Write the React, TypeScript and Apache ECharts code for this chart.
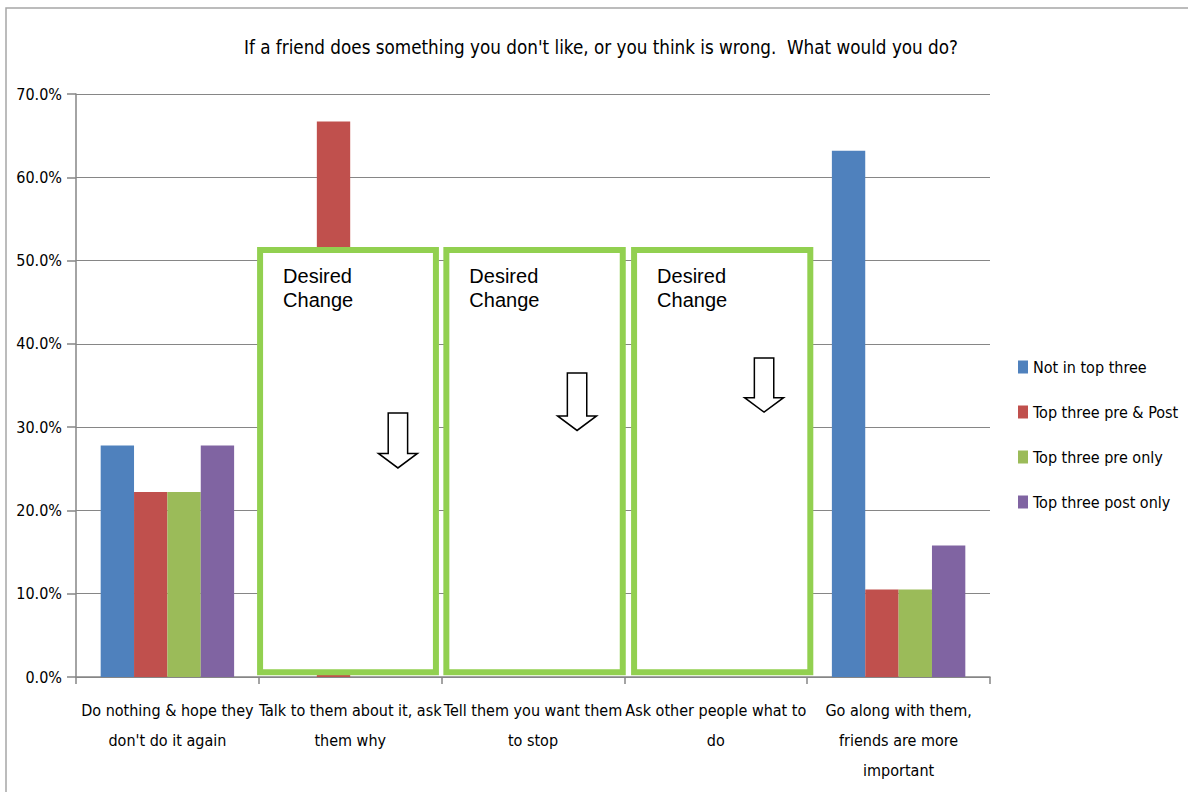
import { useEffect, useRef } from "react";
import * as echarts from "echarts";

// ---- data ----
const categories = [
  "Do nothing & hope they\ndon't do it again",
  "Talk to them about it, ask\nthem why",
  "Tell them you want them\nto stop",
  "Ask other people what to\ndo",
  "Go along with them,\nfriends are more\nimportant",
];
const seriesNames = [
  "Not in top three",
  "Top three pre & Post",
  "Top three pre only",
  "Top three post only",
];
const notInTopThree = [27.8, 0, 0, 0, 63.2];
const topThreePrePost = [22.2, 66.7, 0, 0, 10.5];
const topThreePreOnly = [22.2, 0, 0, 0, 10.5];
const topThreePostOnly = [27.8, 0, 0, 0, 15.8];
const yMin = 0;
const yMax = 70;
const yInterval = 10;

const titleText =
  "If a friend does something you don't like, or you think is wrong.  What would you do?";
const boxLabel = "Desired\nChange";

// "Desired Change" frames, spans in category units, heights in axis values
const changeBoxes = [
  { from: 0.507, to: 1.469 },
  { from: 1.526, to: 2.491 },
  { from: 2.553, to: 3.517 },
];
const boxTopValue = 51.26;
const boxBottomValue = 0.56;
const arrows = [
  { at: 1.261, top: 31.7, tip: 25.1 },
  { at: 2.241, top: 36.5, tip: 29.6 },
  { at: 3.264, top: 38.3, tip: 31.8 },
];

const colors = ["#4F81BD", "#C0504D", "#9BBB59", "#8064A2"];
const NARROW = "'DejaVu Sans Condensed', 'Liberation Sans', sans-serif";
const ARIAL = "'Liberation Sans', Arial, sans-serif";
const GRID_GRAY = "#868686";

export default function App() {
  const ref = useRef<HTMLDivElement>(null);

  useEffect(() => {
    if (!ref.current) return;
    const chart = echarts.init(ref.current, undefined, { renderer: "svg" });
    const seriesData = [notInTopThree, topThreePrePost, topThreePreOnly, topThreePostOnly];

    chart.setOption({
      animation: false,
      color: colors,
      textStyle: { fontFamily: NARROW },
      grid: { left: 76, right: 198, top: 94, bottom: 115 },
      legend: {
        orient: "vertical",
        left: 1018,
        top: 357,
        padding: 0,
        itemWidth: 10,
        itemHeight: 13,
        itemGap: 25,
        icon: "rect",
        textStyle: { fontFamily: NARROW, fontSize: 16, color: "#000", lineHeight: 20 },
        data: seriesNames,
      },
      xAxis: {
        type: "category",
        data: categories,
        axisLine: { lineStyle: { color: GRID_GRAY, width: 1.5 } },
        axisTick: { show: true, length: 7, lineStyle: { color: GRID_GRAY, width: 1.5 } },
        axisLabel: {
          interval: 0,
          color: "#000",
          fontFamily: NARROW,
          fontSize: 16,
          lineHeight: 30,
          margin: 18,
        },
      },
      yAxis: {
        type: "value",
        min: yMin,
        max: yMax,
        interval: yInterval,
        axisLine: { show: true, lineStyle: { color: GRID_GRAY, width: 1.5 } },
        axisTick: { show: true, length: 9, lineStyle: { color: GRID_GRAY, width: 1.5 } },
        splitLine: { lineStyle: { color: GRID_GRAY, width: 1.2 } },
        axisLabel: {
          color: "#000",
          fontFamily: NARROW,
          fontSize: 16,
          margin: 14,
          formatter: (v: number) => v.toFixed(1) + "%",
        },
      },
      series: seriesNames.map((name, i) => ({
        name,
        type: "bar",
        data: seriesData[i],
        barGap: "0%",
        barCategoryGap: "27%",
        itemStyle: { color: colors[i] },
      })),
    });

    // Pixel helpers on top of the chart's own axes
    const c0 = chart.convertToPixel({ xAxisIndex: 0 }, 0) as number;
    const c1 = chart.convertToPixel({ xAxisIndex: 0 }, 1) as number;
    const xAt = (u: number) => c0 + u * (c1 - c0);
    const yAt = (v: number) => chart.convertToPixel({ yAxisIndex: 0 }, v) as number;

    const graphics: any[] = [
      // outer chart frame
      {
        type: "rect",
        silent: true,
        z: 0,
        shape: { x: 6, y: 8, width: 1300, height: 900 },
        style: { fill: "none", stroke: "#a6a6a6", lineWidth: 1.5 },
      },
      {
        type: "text",
        z: 10,
        x: 601,
        y: 47,
        style: {
          text: titleText,
          fontFamily: NARROW,
          fontSize: 18.7,
          fill: "#000",
          align: "center",
          verticalAlign: "middle",
        },
      },
    ];

    const top = yAt(boxTopValue);
    const bottom = yAt(boxBottomValue);
    changeBoxes.forEach((b) => {
      const left = xAt(b.from);
      const right = xAt(b.to);
      graphics.push({
        type: "rect",
        z: 100,
        shape: { x: left, y: top, width: right - left, height: bottom - top },
        style: { fill: "#fff", stroke: "#92D050", lineWidth: 6 },
      });
      graphics.push({
        type: "text",
        z: 101,
        x: left + 23,
        y: top + 38,
        style: {
          text: boxLabel,
          fontFamily: ARIAL,
          fontSize: 20,
          lineHeight: 24,
          fill: "#000",
          align: "left",
          verticalAlign: "middle",
        },
      });
    });

    arrows.forEach((a) => {
      const cx = xAt(a.at);
      const ty = yAt(a.top);
      const by = yAt(a.tip);
      const shaft = 9.7;
      const head = 19.5;
      const headH = 14.5;
      graphics.push({
        type: "polygon",
        z: 102,
        shape: {
          points: [
            [cx - shaft, ty],
            [cx + shaft, ty],
            [cx + shaft, by - headH],
            [cx + head, by - headH],
            [cx, by],
            [cx - head, by - headH],
            [cx - shaft, by - headH],
          ],
        },
        style: { fill: "#fff", stroke: "#000", lineWidth: 1.5 },
      });
    });

    chart.setOption({ graphic: graphics });

    return () => chart.dispose();
  }, []);

  return (
    <div
      ref={ref}
      style={{ position: "absolute", left: 0, top: 0, width: 1188, height: 792, background: "#fff" }}
    />
  );
}
